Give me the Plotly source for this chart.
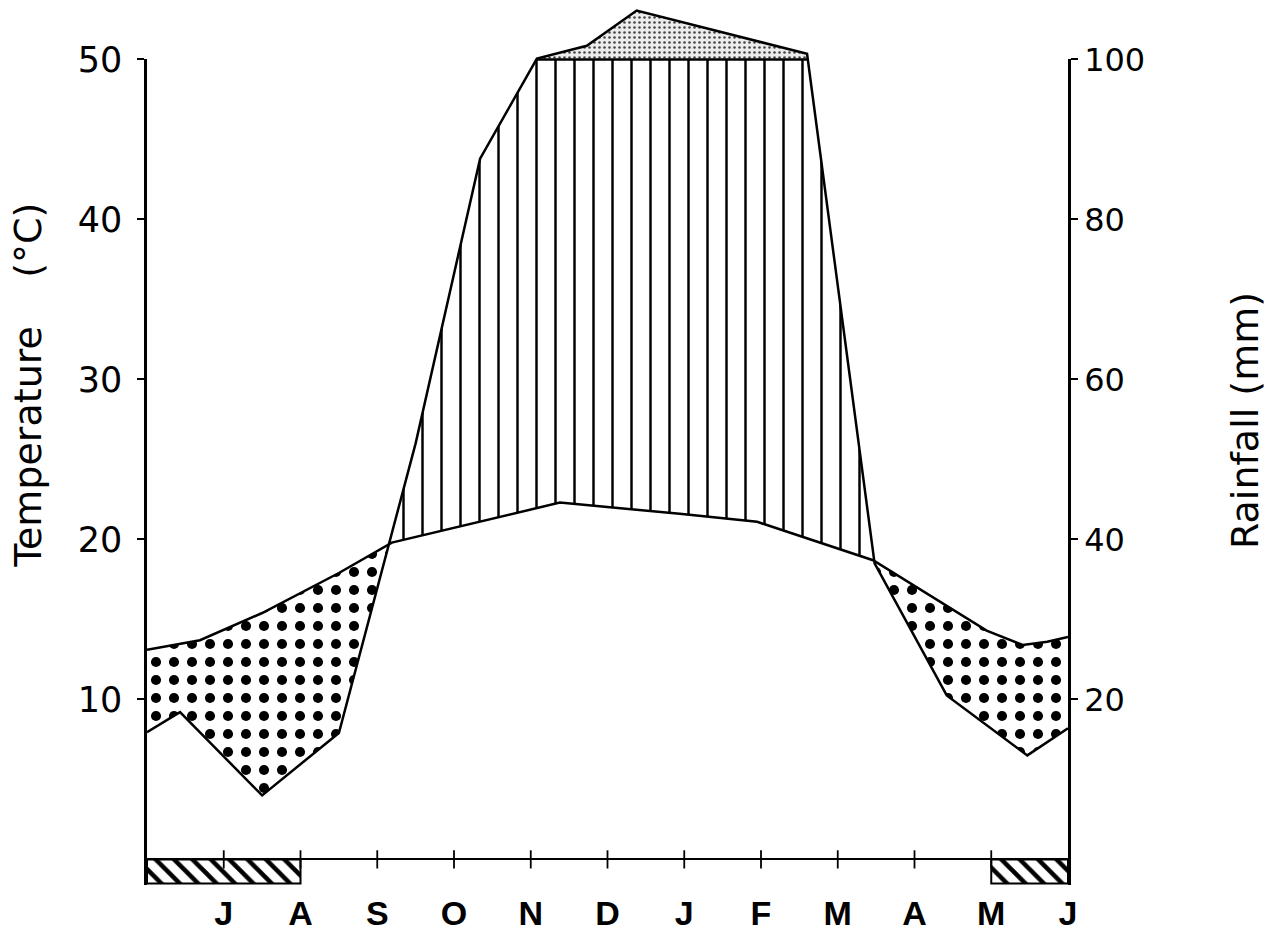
import numpy as np
import plotly.graph_objects as go

# ---------------- data ----------------
months = ["J", "A", "S", "O", "N", "D", "J", "F", "M", "A", "M", "J"]
month_pos = [1, 2, 3, 4, 5, 6, 7, 8, 9, 10, 11, 12]
tick_pos = [1, 2, 3, 4, 5, 6, 7, 8, 9, 10, 11]

# temperature curve (x in months from start of July, value in deg C)
temp_x = [0, 0.69, 1.5, 2.5, 3.19, 5.38, 6.94, 7.95, 9.46, 10.94, 11.41, 11.73, 12]
temp_c = [13.1, 13.7, 15.4, 17.9, 19.8, 22.3, 21.6, 21.1, 18.7, 14.3, 13.4, 13.6, 13.9]

# rainfall curve (x in months, value in mm)
rain_x = [0, 0.43, 1.5, 2.5, 3.5, 4.34, 5.08, 5.73, 6.38, 8.6, 9.48, 10.42, 11.47, 12]
rain_mm = [15.9, 18.4, 8.0, 15.8, 52, 87.6, 101, 117, 161, 107, 37, 20.5, 13, 16.4]

# months with frost (bars under the axis)
frost_start = [0, 11]
frost_end = [2, 12]

temp_ticks = [10, 20, 30, 40, 50]
rain_ticks = [20, 40, 60, 80, 100]

# ---------------- helpers ----------------
def to_display(mm):
    mm = np.asarray(mm, float)
    return np.where(mm <= 100, mm / 2.0, 50 + (mm - 100) / 20.0)

rain_d = to_display(rain_mm)

base = np.unique(np.concatenate([temp_x, rain_x]))
Tb = np.interp(base, temp_x, temp_c)
Rb = np.interp(base, rain_x, rain_d)

def crossings(x, f):
    pts = []
    for i in range(len(x) - 1):
        if f[i] * f[i + 1] < 0:
            t = f[i] / (f[i] - f[i + 1])
            pts.append(x[i] + t * (x[i + 1] - x[i]))
    return pts

extra = crossings(base, Tb - Rb) + crossings(base, Rb - 50)
grid = np.unique(np.concatenate([base, extra]))
T = np.interp(grid, temp_x, temp_c)
R = np.interp(grid, rain_x, rain_d)

FONT = "Liberation Sans"
NUMFONT = "DejaVu Sans"
fig = go.Figure()

def band(lower, upper, pattern, bg="white"):
    fig.add_trace(go.Scatter(x=grid, y=lower, mode="lines", line=dict(width=0),
                             hoverinfo="skip", showlegend=False))
    fig.add_trace(go.Scatter(x=grid, y=upper, mode="lines", line=dict(width=0),
                             fill="tonexty", fillcolor=bg, fillpattern=pattern,
                             hoverinfo="skip", showlegend=False))

# arid period (dotted)
band(np.minimum(T, R), T,
     dict(shape=".", size=18, solidity=0.25, fgcolor="black", bgcolor="white"))
# humid period (vertical lines)
band(T, np.maximum(T, np.minimum(R, 50)),
     dict(shape="|", size=19, solidity=0.13, fgcolor="black", bgcolor="white"))
# above 100 mm (stippled)
band(np.minimum(R, 50), R,
     dict(shape=".", size=5, solidity=0.2, fgcolor="#444444", bgcolor="#ececec"),
     bg="#ececec")

# 100 mm line
line100 = np.where(R >= 50 - 1e-9, 50.0, np.nan)
fig.add_trace(go.Scatter(x=grid, y=line100, mode="lines",
                         line=dict(color="black", width=2.5), connectgaps=False,
                         hoverinfo="skip", showlegend=False))

# frost bars
for a, b in zip(frost_start, frost_end):
    fig.add_trace(go.Scatter(x=[a, b, b, a, a], y=[0, 0, -1.5, -1.5, 0],
                             mode="lines", fill="toself", fillcolor="white",
                             fillpattern=dict(shape="\\", size=13, solidity=0.35,
                                              fgcolor="black", bgcolor="white"),
                             line=dict(color="black", width=2),
                             hoverinfo="skip", showlegend=False))

# rainfall curve
fig.add_trace(go.Scatter(x=rain_x, y=rain_d, mode="lines",
                         line=dict(color="black", width=2.5),
                         hoverinfo="skip", showlegend=False))
# temperature curve (on the temperature axis)
fig.add_trace(go.Scatter(x=temp_x, y=temp_c, mode="lines", yaxis="y3",
                         line=dict(color="black", width=2.5),
                         hoverinfo="skip", showlegend=False))
# month tick marks on the baseline (rainfall axis, 0 mm)
fig.add_trace(go.Scatter(x=tick_pos, y=[0] * len(tick_pos), mode="markers", yaxis="y4",
                         marker=dict(symbol="line-ns-open", size=13, color="black",
                                     line=dict(color="black", width=1.8)),
                         hoverinfo="skip", showlegend=False))

H_PLOT = 880.0
dom_top = (50 + 1.6) * 16 / H_PLOT

fig.update_layout(
    template="none",
    width=1272, height=935,
    margin=dict(l=147, r=204, t=5, b=50, autoexpand=False),
    paper_bgcolor="white", plot_bgcolor="rgba(0,0,0,0)",
    showlegend=False,
    font=dict(family=FONT, color="black"),
    xaxis=dict(range=[0, 12], tickvals=month_pos, ticktext=months, ticks="",
               showgrid=False, zeroline=False, showline=False, automargin=False,
               tickfont=dict(family=FONT, size=34, weight="bold"),
               ticklabelstandoff=5),
    yaxis=dict(range=[-1.6, 53.4], showticklabels=False, ticks="", showgrid=False,
               automargin=False,
               zeroline=True, zerolinecolor="black", zerolinewidth=2),
    yaxis3=dict(domain=[0, dom_top], range=[-1.6, 50], anchor="x", side="left",
                showline=True, linecolor="black", linewidth=2.5, automargin=False,
                ticks="outside", ticklen=7, tickwidth=2, tickcolor="black",
                tickvals=temp_ticks, tickfont=dict(family=NUMFONT, size=35),
                showgrid=False, zeroline=False, ticklabelstandoff=8),
    yaxis4=dict(overlaying="y3", range=[-3.2, 100], anchor="x", side="right",
                showline=True, linecolor="black", linewidth=2.5, automargin=False,
                ticks="outside", ticklen=7, tickwidth=2, tickcolor="black",
                tickvals=rain_ticks, tickfont=dict(family=NUMFONT, size=32),
                showgrid=False, zeroline=False, ticklabelstandoff=0),
    annotations=[
        dict(text="Temperature\u00a0\u00a0\u00a0\u00a0(°C)", textangle=-90,
             xref="paper", x=0, xshift=-119, xanchor="center",
             yref="y", y=29.6, yanchor="middle", showarrow=False,
             font=dict(family=NUMFONT, size=38)),
        dict(text="Rainfall (mm)", textangle=-90,
             xref="paper", x=1, xshift=177, xanchor="center",
             yref="y", y=27.4, yanchor="middle", showarrow=False,
             font=dict(family=NUMFONT, size=38)),
    ],
)

fig.write_html("out.html")
